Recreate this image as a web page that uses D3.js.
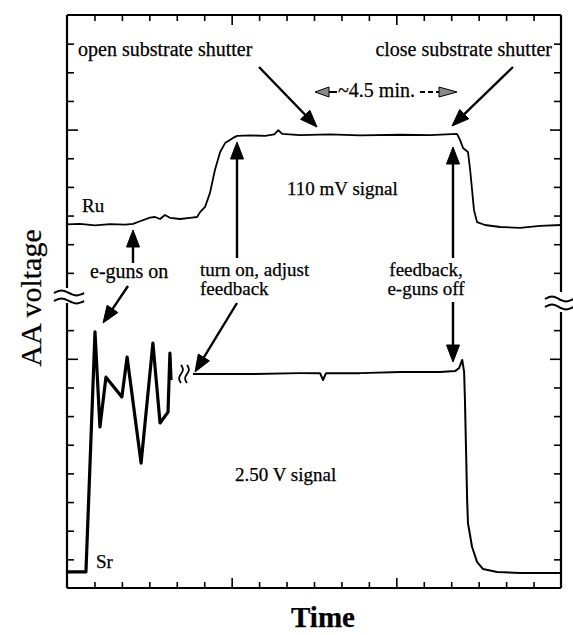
<!DOCTYPE html>
<html>
<head>
<meta charset="utf-8">
<script src="https://cdn.jsdelivr.net/npm/d3@7"></script>
<style>
  body { margin: 0; background: #fff; }
  svg text { font-family: "Liberation Serif", "Times New Roman", serif; fill: #000; stroke: #000; stroke-width: 0.25; }
</style>
</head>
<body>
<svg id="viz" width="573" height="635"></svg>
<script>
// x in tick units of time (18 divisions), y in tick units of AA voltage (20 divisions)
const ruSignal = [
  [0, 12.69], [0.47, 12.71], [1.02, 12.66], [1.57, 12.70], [2.11, 12.68], [2.41, 12.71],
  [2.66, 12.80], [3.02, 12.93], [3.21, 12.95], [3.39, 12.88], [3.57, 13.02], [3.75, 12.92],
  [4.12, 12.88], [4.48, 12.92], [4.74, 12.95], [4.85, 13.12], [5.03, 13.30], [5.21, 13.79],
  [5.39, 14.59], [5.58, 15.22], [5.76, 15.53], [6.05, 15.71], [6.20, 15.78], [6.67, 15.80],
  [7.22, 15.78], [7.55, 15.83], [7.70, 15.98], [7.84, 15.85], [8.49, 15.81], [9.58, 15.83],
  [10.68, 15.80], [12.14, 15.82], [13.23, 15.81], [14.21, 15.85], [14.32, 15.64], [14.43, 15.36],
  [14.61, 15.22], [14.69, 14.59], [14.83, 13.19], [14.94, 12.77], [15.23, 12.67], [15.78, 12.60],
  [16.51, 12.57], [17.24, 12.64], [18, 12.67]
];
// Sr trace before the feedback is switched on (oscillating)
const srStart = [
  [0, 0.56], [0.69, 0.56], [1.02, 8.94], [1.20, 5.62], [1.42, 7.36], [2.00, 6.67],
  [2.19, 8.06], [2.70, 4.36], [3.13, 8.55], [3.39, 5.76], [3.68, 6.14], [3.75, 8.20], [3.79, 7.26]
];
// Sr trace under feedback, then e-guns off
const srFeedback = [
  [4.59, 7.47], [6.67, 7.47], [8.49, 7.50], [9.22, 7.50], [9.33, 7.26], [9.44, 7.50],
  [10.68, 7.50], [12.14, 7.54], [13.59, 7.54], [14.14, 7.57], [14.29, 7.68], [14.40, 7.96],
  [14.47, 7.54], [14.50, 6.56], [14.54, 4.82], [14.58, 3.07], [14.61, 2.27], [14.76, 1.43],
  [14.94, 0.91], [15.16, 0.66], [15.67, 0.56], [16.51, 0.52], [18, 0.52]
];
const xTicks = d3.range(1, 18);
const xMajor = [6, 12];
const yTicks = d3.range(1, 20).filter(d => d !== 10);
const yMajor = [8, 16];

const svg = d3.select("#viz");
const plot = { left: 67, right: 561, top: 15, bottom: 588 };

const x = d3.scaleLinear().domain([0, 18]).range([plot.left, plot.right]);
const y = d3.scaleLinear().domain([0, 20]).range([plot.bottom, plot.top]);

// ---- axes (ticks inside the frame) ----
const tickLen = (d, major) => major.includes(d) ? 10 : 6;

svg.append("g")
  .attr("transform", `translate(0,${plot.bottom})`)
  .call(d3.axisBottom(x).tickValues(xTicks).tickFormat("").tickSizeOuter(0))
  .call(g => g.select(".domain").remove())
  .call(g => g.selectAll(".tick line").attr("y2", d => -tickLen(d, xMajor)).attr("stroke-width", 1.6));

svg.append("g")
  .attr("transform", `translate(0,${plot.top})`)
  .call(d3.axisTop(x).tickValues(xTicks).tickFormat("").tickSizeOuter(0))
  .call(g => g.select(".domain").remove())
  .call(g => g.selectAll(".tick line").attr("y2", d => tickLen(d, xMajor)).attr("stroke-width", 1.6));

svg.append("g")
  .attr("transform", `translate(${plot.left},0)`)
  .call(d3.axisLeft(y).tickValues(yTicks).tickFormat("").tickSizeOuter(0))
  .call(g => g.select(".domain").remove())
  .call(g => g.selectAll(".tick line").attr("x2", d => tickLen(d, yMajor) + 1).attr("stroke-width", 1.6));

svg.append("g")
  .attr("transform", `translate(${plot.right},0)`)
  .call(d3.axisRight(y).tickValues(yTicks).tickFormat("").tickSizeOuter(0))
  .call(g => g.select(".domain").remove())
  .call(g => g.selectAll(".tick line").attr("x2", d => -tickLen(d, yMajor) - 1).attr("stroke-width", 1.6));

// frame, with the broken vertical sides
const frame = svg.append("g").attr("stroke", "#000").attr("stroke-width", 2.2).attr("fill", "none");
frame.append("line").attr("x1", plot.left).attr("x2", plot.right).attr("y1", plot.top).attr("y2", plot.top);
frame.append("line").attr("x1", plot.left).attr("x2", plot.right).attr("y1", plot.bottom).attr("y2", plot.bottom);
frame.append("line").attr("x1", plot.left).attr("x2", plot.left).attr("y1", plot.top).attr("y2", 288);
frame.append("line").attr("x1", plot.left).attr("x2", plot.left).attr("y1", 303).attr("y2", plot.bottom);
frame.append("line").attr("x1", plot.right).attr("x2", plot.right).attr("y1", plot.top).attr("y2", 292);
frame.append("line").attr("x1", plot.right).attr("x2", plot.right).attr("y1", 312).attr("y2", plot.bottom);

// "≈" break marks
const waveH = (cx, cy, w) => {
  const pts = d3.range(0, 1.0001, 0.1).map(t => [cx - w / 2 + t * w, cy - 2.6 * Math.sin(t * 2 * Math.PI)]);
  return d3.line().curve(d3.curveBasis)(pts);
};
const waveV = (cx, cy, h) => {
  const pts = d3.range(0, 1.0001, 0.1).map(t => [cx + 2 * Math.sin(t * 2 * Math.PI), cy - h / 2 + t * h]);
  return d3.line().curve(d3.curveBasis)(pts);
};
const breaks = svg.append("g").attr("stroke", "#000").attr("stroke-width", 2).attr("fill", "none");
[[69, 293], [69, 301]].forEach(([cx, cy]) => breaks.append("path").attr("d", waveH(cx, cy, 30)));
[[559, 299], [559, 307]].forEach(([cx, cy]) => breaks.append("path").attr("d", waveH(cx, cy, 28)));
[[181, 374], [187, 374]].forEach(([cx, cy]) => breaks.append("path").attr("stroke-width", 1.8).attr("d", waveV(cx, cy, 18)));

// ---- signals ----
const line = d3.line().x(d => x(d[0])).y(d => y(d[1]));
svg.append("path").datum(ruSignal).attr("d", line)
  .attr("fill", "none").attr("stroke", "#000").attr("stroke-width", 1.8).attr("stroke-linejoin", "round");
svg.append("path").datum(srStart).attr("d", line)
  .attr("fill", "none").attr("stroke", "#000").attr("stroke-width", 3.2).attr("stroke-linejoin", "round");
svg.append("path").datum(srFeedback).attr("d", line)
  .attr("fill", "none").attr("stroke", "#000").attr("stroke-width", 2).attr("stroke-linejoin", "round");

// ---- annotations ----
const arrow = (x1, y1, x2, y2, opts = {}) => {
  const len = opts.len || 17, half = opts.half || 6.5;
  const a = Math.atan2(y2 - y1, x2 - x1);
  const bx = x2 - len * Math.cos(a), by = y2 - len * Math.sin(a);
  const g = svg.append("g");
  g.append("line").attr("x1", x1).attr("y1", y1).attr("x2", bx + 2 * Math.cos(a)).attr("y2", by + 2 * Math.sin(a))
    .attr("stroke", "#000").attr("stroke-width", opts.width || 2.4)
    .attr("stroke-dasharray", opts.dash || null);
  const px = -Math.sin(a) * half, py = Math.cos(a) * half;
  g.append("path")
    .attr("d", `M${x2},${y2}L${bx + px},${by + py}L${bx - px},${by - py}Z`)
    .attr("fill", opts.fill || "#000").attr("stroke", "#000").attr("stroke-width", 1);
};

const label = (tx, ty, text, size = 20, anchor = "start") =>
  svg.append("text").attr("x", tx).attr("y", ty).attr("font-size", size)
    .attr("text-anchor", anchor).text(text);

label(78, 56, "open substrate shutter");
label(552, 56, "close substrate shutter", 20, "end");
arrow(259, 67, 317, 127);
arrow(513, 67, 452, 126);

// ~4.5 min. span
label(338, 97, "~4.5 min.");
arrow(337, 92, 315, 92, { len: 14, half: 5, fill: "#8a8a8a", width: 2 });
arrow(420, 92, 457, 92, { len: 18, half: 5, fill: "#8a8a8a", width: 2, dash: "5,3" });

label(287, 195, "110 mV signal", 19);
label(235, 481, "2.50 V signal", 19);
label(82, 212, "Ru", 19);
label(96, 568, "Sr", 19);

label(90, 278, "e-guns on");
arrow(133, 263, 133, 230);
arrow(128, 286, 103, 323);

label(200, 276, "turn on, adjust", 19);
label(200, 295, "feedback", 19);
arrow(237, 258, 237, 142);
arrow(237, 303, 195, 372);

label(426, 276, "feedback,", 19, "middle");
label(426, 295, "e-guns off", 19, "middle");
arrow(453, 258, 453, 147);
arrow(453, 302, 453, 362);

// axis titles
svg.append("text")
  .attr("transform", "translate(41,298) rotate(-90)")
  .attr("text-anchor", "middle").attr("font-size", 30)
  .text("AA voltage");
svg.append("text")
  .attr("x", 323).attr("y", 627)
  .attr("text-anchor", "middle").attr("font-size", 29).attr("font-weight", "bold")
  .text("Time");
</script>
</body>
</html>
